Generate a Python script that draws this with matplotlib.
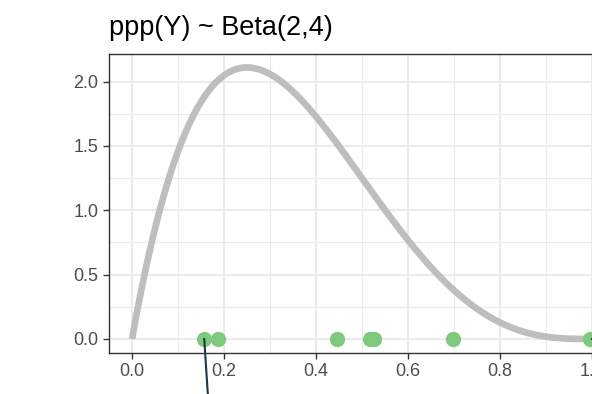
import numpy as np
import matplotlib.pyplot as plt
from math import gamma

plt.rcParams['font.family'] = ['Liberation Sans', 'DejaVu Sans']

# Beta prior parameters shown in the title
a_par = 2
b_par = 4

# posterior predictive p-values (points along y = 0)
ppp_vals = [0.157, 0.188, 0.445, 0.517, 0.525, 0.697, 0.995]
ppp_zero = [0, 0, 0, 0, 0, 0, 0]

x_ticks = [0.0, 0.2, 0.4, 0.6, 0.8, 1.0]
x_labels = ['0.0', '0.2', '0.4', '0.6', '0.8', '1.0']
y_ticks = [0.0, 0.5, 1.0, 1.5, 2.0]
y_labels = ['0.0', '0.5', '1.0', '1.5', '2.0']

# observed ppp marker line
obs_x = [0.157, 0.168]
obs_y = [0.0, -0.6]

xs = np.linspace(0, 1, 400)
dens = gamma(a_par + b_par) / (gamma(a_par) * gamma(b_par)) * xs**(a_par - 1) * (1 - xs)**(b_par - 1)

fig = plt.figure(figsize=(5.92, 3.94), dpi=100)
ax = fig.add_axes([109/592, 1 - 352.5/394, (615 - 109)/592, (352.5 - 54)/394])

ax.set_xlim(-0.05, 1.05)
ax.set_ylim(-0.105, 2.214)

ax.set_xticks(x_ticks)
ax.set_xticklabels(x_labels)
ax.set_yticks(y_ticks)
ax.set_yticklabels(y_labels)
ax.set_xticks([0.1, 0.3, 0.5, 0.7, 0.9], minor=True)
ax.set_yticks([0.25, 0.75, 1.25, 1.75], minor=True)

ax.grid(which='major', color='#EBEBEB', linewidth=1.5, zorder=0)
ax.grid(which='minor', color='#EBEBEB', linewidth=0.8, zorder=0)
ax.set_axisbelow(True)

ax.tick_params(which='major', length=4.5, width=1.0, color='#333333',
               labelsize=13, labelcolor='#4D4D4D', pad=3)
ax.tick_params(which='minor', length=0)
for s in ax.spines.values():
    s.set_color('#333333')
    s.set_linewidth(1.0)

ax.plot(xs, dens, color='#BEBEBE', linewidth=4.8, solid_capstyle='butt', zorder=2)
ax.plot(ppp_vals, ppp_zero, 'o', color='#7FC97F', markersize=10, zorder=3)
ax.plot(obs_x, obs_y, color='#21363F', linewidth=1.5, clip_on=False, zorder=4)
ax.plot([1.0, 1.1], [0.0, -0.03], color='#21363F', linewidth=1.5, clip_on=False, zorder=4)

ax.set_title('ppp(Y) ~ Beta(2,4)', loc='left', fontsize=19.5, pad=13.5, color='black')

fig.savefig('out.png', dpi=100)
